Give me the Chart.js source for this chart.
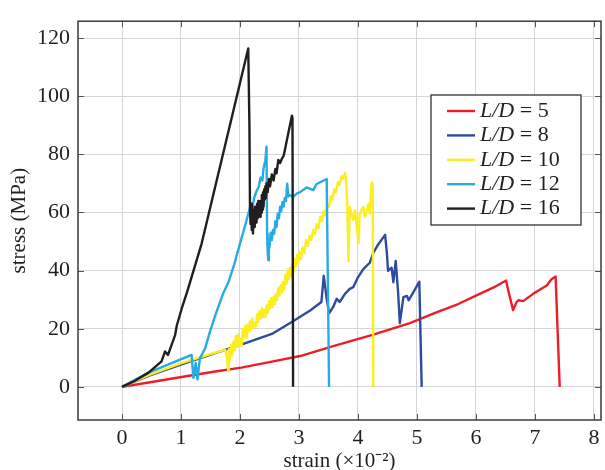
<!DOCTYPE html>
<html>
<head>
<meta charset="utf-8">
<script src="https://cdn.jsdelivr.net/npm/chart.js@4.4.0/dist/chart.umd.min.js"></script>
<style>
  html, body { margin: 0; padding: 0; background: #fff; }
</style>
</head>
<body>
<canvas id="myChart" width="605" height="470"></canvas>
<script>
// L/D ratios and their line colours
var ratios = [5, 8, 10, 12, 16];
var colors = ['#ee1d24', '#2d4b9f', '#fcee21', '#29abe2', '#221e1f'];

// strain (x10^-2) / stress (MPa)
var strain5 = [0, 0.45, 1.01, 1.58, 2.02, 2.54, 3.02, 3.58, 4.26, 4.88, 5.33, 5.7, 6.01, 6.3, 6.51, 6.55, 6.63, 6.69, 6.72, 6.8, 6.97, 7.2, 7.28, 7.35, 7.42];
var stress5 = [0, 1.5, 3.4, 5.3, 6.6, 8.7, 10.6, 14, 18, 21.9, 25.6, 28.5, 31.5, 34.2, 36.6, 33, 26.4, 29.2, 29.8, 29.5, 32, 34.9, 37, 38, 0];

var strain8 = [0, 0.45, 1.01, 1.58, 2.02, 2.54, 2.9, 3.02, 3.19, 3.38, 3.42, 3.47, 3.51, 3.58, 3.64, 3.69, 3.78, 3.86, 3.92, 4.0, 4.09, 4.2, 4.26, 4.34, 4.46, 4.49, 4.51, 4.57, 4.6, 4.64, 4.68, 4.71, 4.77, 4.83, 4.86, 4.94, 5.04, 5.08];
var stress8 = [0, 3.8, 7.7, 11.6, 14.5, 18.2, 22.6, 24.1, 26.3, 29.2, 38.2, 30.3, 25.3, 27.5, 30.3, 29.2, 32, 33.7, 34.3, 37.7, 40.5, 42.7, 46.1, 48.9, 52.3, 46.1, 39.9, 41, 36, 43.3, 32.6, 21.9, 30.9, 31.3, 29.8, 32.6, 36.2, 0];

var strain10 = [0, 0.45, 1.01, 1.5, 1.75, 1.78, 1.8, 1.81, 1.83, 1.85, 1.87, 1.89, 1.91, 1.93, 1.95, 1.97, 1.99, 2.01, 2.03, 2.05, 2.07, 2.09, 2.11, 2.13, 2.15, 2.17, 2.19, 2.21, 2.23, 2.25, 2.27, 2.29, 2.31, 2.33, 2.35, 2.37, 2.39, 2.41, 2.43, 2.45, 2.47, 2.49, 2.51, 2.53, 2.55, 2.57, 2.59, 2.61, 2.63, 2.65, 2.67, 2.69, 2.71, 2.73, 2.75, 2.77, 2.79, 2.81, 2.83, 2.85, 2.87, 2.89, 2.91, 2.93, 2.95, 2.97, 2.99, 3.01, 3.03, 3.06, 3.09, 3.12, 3.15, 3.18, 3.21, 3.24, 3.27, 3.3, 3.33, 3.36, 3.39, 3.42, 3.45, 3.48, 3.51, 3.54, 3.57, 3.6, 3.63, 3.66, 3.69, 3.72, 3.75, 3.78, 3.8, 3.82, 3.84, 3.86, 3.92, 3.95, 4.01, 4.03, 4.09, 4.12, 4.18, 4.2, 4.23, 4.25, 4.26];
var stress10 = [0, 4.0, 8.2, 11.3, 12.7, 10, 5.6, 13, 9, 14.5, 11, 15.5, 12.5, 17.5, 14, 18, 13.8, 16.5, 14.3, 20, 17, 21, 16.8, 21.5, 19, 22.5, 19.5, 23.5, 20.5, 22, 20.8, 25, 22.5, 26, 23.5, 27, 24, 26.5, 24, 28, 25.5, 29.5, 27, 30.5, 27.5, 31, 28.5, 32, 30, 34, 31.5, 35, 32.5, 36, 33.5, 38.5, 35.5, 40.5, 37, 41, 38, 42.5, 39.5, 44, 41.5, 45.5, 42.7, 46.5, 44, 48, 46, 50.5, 48.5, 52, 50.5, 54, 52.5, 56, 54.5, 58.5, 57, 60.5, 59, 63, 62, 65.5, 64.5, 68, 67, 70.5, 69.5, 72.5, 71.5, 73.7, 71, 62, 43.3, 61.9, 57.4, 60.8, 49.5, 59.6, 61.9, 58.5, 63, 59.6, 70.3, 69.8, 0];

var strain12 = [0, 0.45, 1.18, 1.21, 1.25, 1.28, 1.32, 1.41, 1.49, 1.6, 1.72, 1.8, 1.9, 2.0, 2.08, 2.17, 2.2, 2.24, 2.28, 2.32, 2.35, 2.38, 2.4, 2.43, 2.45, 2.46, 2.47, 2.48, 2.49, 2.5, 2.52, 2.54, 2.56, 2.58, 2.6, 2.62, 2.64, 2.66, 2.68, 2.7, 2.72, 2.74, 2.76, 2.78, 2.8, 2.82, 2.84, 2.9, 2.96, 3.02, 3.13, 3.24, 3.3, 3.47, 3.51];
var stress12 = [0, 4.9, 11, 3.1, 8.2, 2.6, 9.8, 13.3, 18.9, 25.7, 32.4, 35.8, 42, 49.3, 55, 61.7, 60, 65, 67.3, 69, 72, 71, 75.2, 78, 82.6, 52.7, 46, 43.6, 50, 48, 53, 50.5, 54, 52.7, 57, 55, 59.6, 58, 62, 60.5, 63.5, 62, 65, 64, 69.9, 65.5, 66, 65.3, 66.5, 67, 68.6, 67.7, 69.8, 71.5, 0];

var strain16 = [0, 0.22, 0.45, 0.67, 0.73, 0.78, 0.9, 0.93, 1.01, 1.1, 1.15, 1.35, 2.14, 2.16, 2.17, 2.18, 2.19, 2.2, 2.21, 2.22, 2.23, 2.24, 2.25, 2.26, 2.27, 2.28, 2.29, 2.3, 2.31, 2.32, 2.33, 2.34, 2.35, 2.36, 2.37, 2.38, 2.39, 2.4, 2.41, 2.42, 2.43, 2.44, 2.45, 2.47, 2.49, 2.51, 2.54, 2.57, 2.6, 2.62, 2.65, 2.68, 2.71, 2.74, 2.76, 2.88, 2.89, 2.9];
var stress16 = [0, 2.1, 4.9, 8.8, 12.2, 11, 17.8, 21.2, 26.8, 32.4, 35.8, 49.3, 116.4, 89.9, 60.7, 56, 63, 54, 61, 52.8, 60, 55, 62, 57, 61, 56.5, 63, 58, 64, 59, 62.5, 58.5, 64, 60, 66, 61, 67, 62, 68, 64.5, 69, 65, 70, 67, 71.5, 69, 73.1, 71, 75, 73.5, 78.1, 77, 78.5, 79.5, 81.4, 93.3, 92.5, 0];

var strains = [strain5, strain8, strain10, strain12, strain16];
var stresses = [stress5, stress8, stress10, stress12, stress16];

var xTicks = [0, 1, 2, 3, 4, 5, 6, 7, 8];
var yTicks = [0, 20, 40, 60, 80, 100, 120];

var serif = '"Liberation Serif", "Times New Roman", serif';

function toPoints (xs, ys) {
	return xs.map(function (x, i) {
		return { x: x, y: ys[i] };
	});
}

var datasets = ratios.map(function (r, i) {
	return {
		label: 'L/D = ' + r,
		data: toPoints(strains[i], stresses[i]),
		borderColor: colors[i],
		backgroundColor: colors[i],
		borderWidth: 2.4,
		borderJoinStyle: 'round',
		pointRadius: 0,
		tension: 0,
		fill: false,
		showLine: true,
		order: ratios.length - i   // later series drawn on top
	};
});

// box, inward tick marks and the legend, drawn on top
var framePlugin = {
	id: 'frame',
	afterDraw: function (chart) {
		var ctx = chart.ctx,
				a = chart.chartArea,
				xs = chart.scales.x,
				ys = chart.scales.y;

		ctx.save();
		ctx.strokeStyle = '#555';
		ctx.lineWidth = 1;
		xTicks.forEach(function (v) {
			var px = Math.round(xs.getPixelForValue(v)) + 0.5;
			ctx.beginPath();
			ctx.moveTo(px, a.bottom); ctx.lineTo(px, a.bottom - 6);
			ctx.moveTo(px, a.top); ctx.lineTo(px, a.top + 6);
			ctx.stroke();
		});
		yTicks.forEach(function (v) {
			var py = Math.round(ys.getPixelForValue(v)) + 0.5;
			ctx.beginPath();
			ctx.moveTo(a.left, py); ctx.lineTo(a.left + 6, py);
			ctx.moveTo(a.right, py); ctx.lineTo(a.right - 6, py);
			ctx.stroke();
		});

		ctx.strokeStyle = '#3a3a3a';
		ctx.lineWidth = 1.5;
		ctx.strokeRect(a.left, a.top, a.right - a.left, a.bottom - a.top);

		// legend
		var lx = 431, ly = 95, lw = 150, lh = 130;
		ctx.fillStyle = '#fff';
		ctx.fillRect(lx, ly, lw, lh);
		ctx.strokeStyle = '#333';
		ctx.lineWidth = 1.3;
		ctx.strokeRect(lx, ly, lw, lh);

		ctx.textBaseline = 'middle';
		ctx.textAlign = 'left';
		chart.data.datasets.forEach(function (ds, i) {
			var y = ly + 16 + i * 24.4;
			ctx.strokeStyle = ds.borderColor;
			ctx.lineWidth = 2.4;
			ctx.beginPath();
			ctx.moveTo(lx + 16, y); ctx.lineTo(lx + 44, y);
			ctx.stroke();

			ctx.fillStyle = '#231f20';
			ctx.font = 'italic 22px ' + serif;
			ctx.fillText('L/D', lx + 49, y);
			var w = ctx.measureText('L/D').width;
			ctx.font = '22px ' + serif;
			ctx.fillText(' = ' + ratios[i], lx + 49 + w, y);
		});
		ctx.restore();
	}
};

var ctx = document.getElementById('myChart');

window.myChart = new Chart(ctx, {
	type: 'scatter',
	data: { datasets: datasets },
	options: {
		responsive: false,
		animation: false,
		devicePixelRatio: 1,
		layout: { padding: { top: 14, right: 4, left: 0, bottom: 0 } },
		plugins: {
			legend: { display: false },
			tooltip: { enabled: false }
		},
		scales: {
			x: {
				type: 'linear',
				min: -0.746,
				max: 8.12,
				afterBuildTicks: function (s) { s.ticks = xTicks.map(function (v) { return { value: v }; }); },
				afterFit: function (s) { s.height = 50; },
				grid: { color: '#d6d6d6', drawTicks: false },
				border: { display: false },
				ticks: { color: '#231f20', padding: 5, maxRotation: 0, font: { family: serif, size: 22 } },
				title: {
					display: true,
					text: 'strain (\u00d710\u207b\u00b2)',
					color: '#231f20',
					padding: { top: 0, bottom: 0 },
					font: { family: serif, size: 21, lineHeight: 0.8 }
				}
			},
			y: {
				type: 'linear',
				min: -11.4,
				max: 125.8,
				afterBuildTicks: function (s) { s.ticks = yTicks.map(function (v) { return { value: v }; }); },
				afterFit: function (s) { s.width = 78; },
				grid: { color: '#d6d6d6', drawTicks: false },
				border: { display: false },
				ticks: { color: '#231f20', padding: 8, font: { family: serif, size: 22 } },
				title: {
					display: true,
					text: 'stress (MPa)',
					color: '#231f20',
					padding: { top: 7, bottom: 0 },
					font: { family: serif, size: 21 }
				}
			}
		}
	},
	plugins: [framePlugin]
});
</script>
</body>
</html>
